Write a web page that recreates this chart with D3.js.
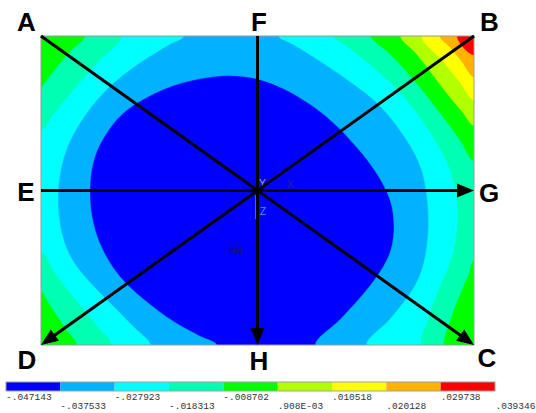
<!DOCTYPE html>
<html>
<head>
<meta charset="utf-8">
<script src="https://cdn.jsdelivr.net/npm/d3@7"></script>
<style>
  html, body { margin: 0; padding: 0; background: #fff; }
  svg { display: block; }
</style>
</head>
<body>
<svg id="chart" width="536" height="413"></svg>
<script>
// Contour levels of the plate result (min .. max) and their legend texts
const levels = [-0.047143, -0.037533, -0.027923, -0.018313, -0.008702,
                0.000908, 0.010518, 0.020128, 0.029738, 0.039346];
const levelLabels = ["-.047143", "-.037533", "-.027923", "-.018313", "-.008702",
                     ".908E-03", ".010518", ".020128", ".029738", ".039346"];
const bandColors = ["#0000FF", "#00B2FF", "#00FFFF", "#00FFB2", "#00FF00",
                    "#B2FF00", "#FFFF00", "#FFB200", "#FF0000"];

// Nodal result on a 17 x 13 grid over the plate, rows from top edge to bottom edge
const field = [
  [-0.0010, -0.0054, -0.0108, -0.0186, -0.0228, -0.0270, -0.0303, -0.0318, -0.0308, -0.0271, -0.0223, -0.0173, -0.0102, -0.0026, 0.0094, 0.0239, 0.0393],
  [-0.0049, -0.0105, -0.0177, -0.0248, -0.0294, -0.0322, -0.0348, -0.0362, -0.0359, -0.0332, -0.0298, -0.0252, -0.0188, -0.0105, -0.0009, 0.0111, 0.0263],
  [-0.0087, -0.0161, -0.0248, -0.0313, -0.0364, -0.0386, -0.0392, -0.0395, -0.0393, -0.0377, -0.0345, -0.0309, -0.0269, -0.0197, -0.0095, 0.0035, 0.0158],
  [-0.0149, -0.0226, -0.0311, -0.0384, -0.0396, -0.0407, -0.0414, -0.0415, -0.0414, -0.0402, -0.0390, -0.0359, -0.0320, -0.0281, -0.0181, -0.0058, 0.0048],
  [-0.0202, -0.0274, -0.0366, -0.0397, -0.0416, -0.0426, -0.0432, -0.0434, -0.0433, -0.0422, -0.0409, -0.0389, -0.0355, -0.0310, -0.0245, -0.0139, -0.0034],
  [-0.0226, -0.0302, -0.0390, -0.0409, -0.0428, -0.0440, -0.0446, -0.0450, -0.0448, -0.0440, -0.0426, -0.0407, -0.0385, -0.0341, -0.0285, -0.0191, -0.0097],
  [-0.0236, -0.0317, -0.0395, -0.0414, -0.0433, -0.0447, -0.0456, -0.0460, -0.0459, -0.0451, -0.0438, -0.0422, -0.0399, -0.0371, -0.0302, -0.0221, -0.0130],
  [-0.0231, -0.0313, -0.0393, -0.0415, -0.0437, -0.0453, -0.0463, -0.0468, -0.0466, -0.0459, -0.0447, -0.0428, -0.0407, -0.0380, -0.0312, -0.0227, -0.0140],
  [-0.0202, -0.0299, -0.0377, -0.0410, -0.0436, -0.0454, -0.0466, -0.0471, -0.0470, -0.0463, -0.0451, -0.0433, -0.0409, -0.0380, -0.0310, -0.0223, -0.0116],
  [-0.0154, -0.0259, -0.0342, -0.0396, -0.0427, -0.0448, -0.0463, -0.0469, -0.0467, -0.0461, -0.0448, -0.0430, -0.0401, -0.0365, -0.0293, -0.0198, -0.0077],
  [-0.0082, -0.0179, -0.0261, -0.0357, -0.0395, -0.0419, -0.0435, -0.0443, -0.0443, -0.0437, -0.0423, -0.0402, -0.0380, -0.0327, -0.0261, -0.0125, -0.0058],
  [-0.0053, -0.0106, -0.0192, -0.0266, -0.0344, -0.0390, -0.0409, -0.0423, -0.0425, -0.0419, -0.0402, -0.0376, -0.0327, -0.0277, -0.0215, -0.0082, -0.0044],
  [-0.0029, -0.0066, -0.0133, -0.0217, -0.0277, -0.0320, -0.0361, -0.0390, -0.0402, -0.0399, -0.0382, -0.0337, -0.0281, -0.0238, -0.0192, -0.0073, -0.0029]
];

// Path letters at plate corners / edge midpoints (plate-relative u, v)
const pointNames = ["A", "F", "B", "E", "G", "D", "H", "C"];
const pointU = [0, 0.5, 1, 0, 1, 0, 0.5, 1];
const pointV = [0, 0, 0, 0.5, 0.5, 1, 1, 1];
// Section paths: start letter -> end letter
const pathFrom = ["A", "B", "F", "E"];
const pathTo   = ["C", "D", "H", "G"];

const svg = d3.select("#chart");
const plate = { x0: 41, x1: 474, y0: 36, y1: 345 };

// plate-relative scales
const px = d3.scaleLinear().domain([0, 1]).range([plate.x0, plate.x1]);
const py = d3.scaleLinear().domain([0, 1]).range([plate.y0, plate.y1]);

// grid scales (d3.contours puts sample i at i + 0.5)
const nx = field[0].length, ny = field.length;
const gx = d3.scaleLinear().domain([0.5, nx - 0.5]).range([plate.x0, plate.x1]);
const gy = d3.scaleLinear().domain([0.5, ny - 0.5]).range([plate.y0, plate.y1]);

svg.append("defs").append("clipPath").attr("id", "plateClip")
  .append("rect")
  .attr("x", plate.x0).attr("y", plate.y0)
  .attr("width", plate.x1 - plate.x0).attr("height", plate.y1 - plate.y0);

const contourGen = d3.contours().size([nx, ny]).thresholds(levels.slice(0, bandColors.length));
const bands = contourGen(field.flat());

// Ring tidy-up before the smooth curve: drop near-duplicate vertices and relax
// vertices that lie inside the plate, so marching-squares zigzag does not show.
const onEdge = ([x, y]) =>
  x <= plate.x0 + 0.5 || x >= plate.x1 - 0.5 || y <= plate.y0 + 0.5 || y >= plate.y1 - 0.5;
function tidyRing(ring) {
  let pts = ring.slice(0, -1).map(([x, y]) => [gx(x), gy(y)]);
  const kept = [];
  pts.forEach(p => {
    const q = kept[kept.length - 1];
    if (!q || Math.hypot(p[0] - q[0], p[1] - q[1]) > 4 || onEdge(p)) kept.push(p);
  });
  pts = kept;
  if (pts.length < 5) return pts;
  for (let pass = 0; pass < 2; pass++) {
    pts = pts.map((p, i) => {
      if (onEdge(p)) return p;
      const a = pts[(i - 1 + pts.length) % pts.length], b = pts[(i + 1) % pts.length];
      return [p[0] * 0.5 + (a[0] + b[0]) * 0.25, p[1] * 0.5 + (a[1] + b[1]) * 0.25];
    });
  }
  return pts;
}
const ringLine = d3.line().curve(d3.curveCatmullRomClosed.alpha(0.5));
const bandPath = band => band.coordinates
  .map(polygon => polygon.map(ring => ringLine(tidyRing(ring))).join(""))
  .join("");

svg.append("g").attr("clip-path", "url(#plateClip)")
  .selectAll("path").data(bands).join("path")
  .attr("d", bandPath)
  .attr("fill-rule", "evenodd")
  .attr("fill", (d, i) => bandColors[i])
  .attr("stroke", (d, i) => bandColors[i])
  .attr("stroke-width", 0.4);

// plate outline
svg.append("rect")
  .attr("x", plate.x0).attr("y", plate.y0)
  .attr("width", plate.x1 - plate.x0).attr("height", plate.y1 - plate.y0)
  .attr("fill", "none").attr("stroke", "#9a9a9a").attr("stroke-width", 1);

// MN marker and coordinate triad
svg.append("text").attr("x", 229).attr("y", 254)
  .attr("font-family", "Liberation Mono, monospace").attr("font-size", 11)
  .attr("fill", "#14145a").text("MN");
svg.append("line").attr("x1", 256).attr("x2", 256).attr("y1", 195).attr("y2", 219)
  .attr("stroke", "#2f8cff").attr("stroke-width", 1.5);
svg.append("text").attr("x", 259).attr("y", 187)
  .attr("font-family", "Liberation Sans, Arial, sans-serif").attr("font-size", 10)
  .attr("fill", "#a8a878").text("Y");
svg.append("text").attr("x", 287).attr("y", 188)
  .attr("font-family", "Liberation Sans, Arial, sans-serif").attr("font-size", 10)
  .attr("fill", "#23239a").text("X");
svg.append("text").attr("x", 260).attr("y", 215)
  .attr("font-family", "Liberation Sans, Arial, sans-serif").attr("font-size", 10)
  .attr("fill", "#3a9cff").text("Z");

// section paths with arrowheads
const idx = name => pointNames.indexOf(name);
const arrows = svg.append("g");
pathFrom.forEach((from, k) => {
  const a = idx(from), b = idx(pathTo[k]);
  const x1 = px(pointU[a]), y1 = py(pointV[a]);
  const x2 = px(pointU[b]), y2 = py(pointV[b]);
  const len = Math.hypot(x2 - x1, y2 - y1);
  const ux = (x2 - x1) / len, uy = (y2 - y1) / len;
  const headL = 17, headW = 7;
  const bx = x2 - ux * headL, by = y2 - uy * headL;
  arrows.append("line")
    .attr("x1", x1).attr("y1", y1)
    .attr("x2", bx + ux * 2).attr("y2", by + uy * 2)
    .attr("stroke", "#000").attr("stroke-width", 3);
  arrows.append("path")
    .attr("d", `M${x2},${y2}L${bx - uy * headW},${by + ux * headW}L${bx + uy * headW},${by - ux * headW}Z`)
    .attr("fill", "#000");
});

// point letters
const letterDx = [-14.5, 1.5, 15.5, -15, 15, -14, 1.5, 13];
const letterDy = [-5, -5, -5, 10, 11, 24, 25, 22];
svg.append("g").selectAll("text").data(pointNames).join("text")
  .attr("x", (d, i) => px(pointU[i]) + letterDx[i])
  .attr("y", (d, i) => py(pointV[i]) + letterDy[i])
  .attr("text-anchor", "middle")
  .attr("font-family", "Liberation Sans, Arial, sans-serif")
  .attr("font-weight", "bold").attr("font-size", 26)
  .attr("fill", "#000")
  .text(d => d);

// legend bar
const legend = { x0: 6, x1: 495, y: 382, h: 9 };
const lx = d3.scaleLinear().domain([0, bandColors.length]).range([legend.x0, legend.x1]);
svg.append("g").selectAll("rect").data(bandColors).join("rect")
  .attr("x", (d, i) => lx(i)).attr("y", legend.y)
  .attr("width", (d, i) => lx(i + 1) - lx(i)).attr("height", legend.h)
  .attr("fill", d => d);
svg.append("rect")
  .attr("x", legend.x0).attr("y", legend.y)
  .attr("width", legend.x1 - legend.x0).attr("height", legend.h)
  .attr("fill", "none").attr("stroke", "#a0a0a0").attr("stroke-width", 1);
svg.append("g").selectAll("text").data(levelLabels).join("text")
  .attr("x", (d, i) => lx(i) + (i === levelLabels.length - 1 ? 0.5 : 0))
  .attr("y", (d, i) => i % 2 === 0 ? 400 : 409)
  .attr("font-family", "Liberation Mono, Courier New, monospace")
  .attr("font-size", 9.5)
  .attr("fill", "#333")
  .text(d => d);
</script>
</body>
</html>
